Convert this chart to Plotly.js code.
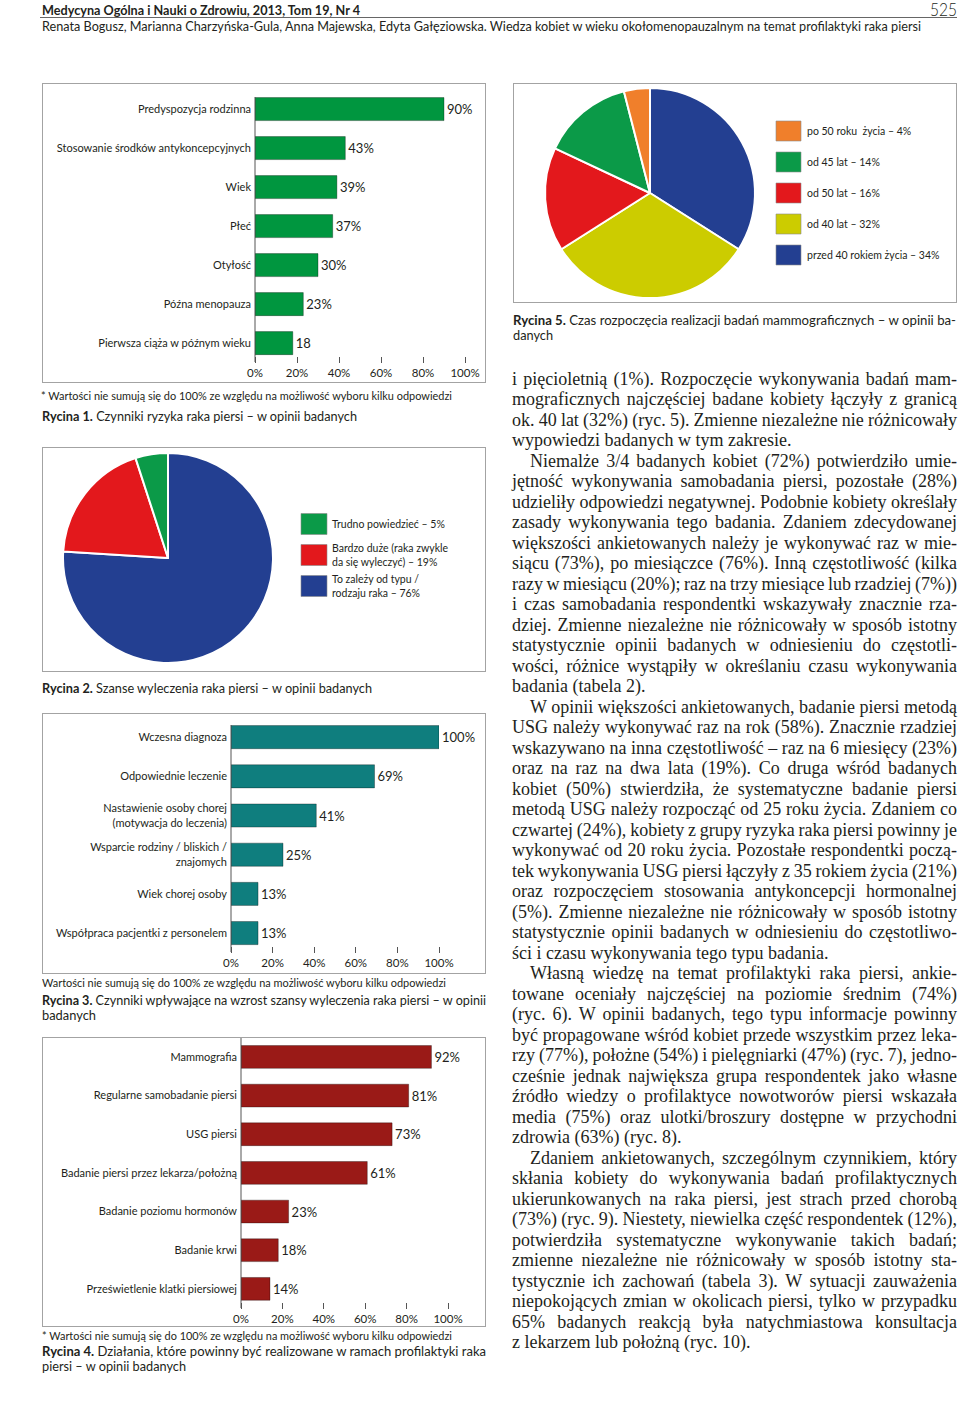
<!DOCTYPE html>
<html><head><meta charset="utf-8">
<script src="https://cdn.plot.ly/plotly-3.0.1.min.js"></script>
<style>
body{margin:0;background:#fff;width:960px;height:1426px;position:relative;overflow:hidden;font-family:Lato,"Open Sans",sans-serif;color:#231f20}
.box{position:absolute;border:1px solid #a3a3a3;box-sizing:border-box}
.plot{position:absolute}
.fit{position:absolute;white-space:nowrap;transform-origin:0 50%}
.tl{position:absolute;white-space:nowrap;font-family:"Liberation Serif","DejaVu Serif",serif;font-size:18px;line-height:20px;color:#231f20;transform-origin:0 50%}
b{font-weight:700}
</style></head><body>
<div id="page"></div>
<script>
// ---------------- DATA ----------------
const axisTickVals = [0, 20, 40, 60, 80, 100];
const axisTickText = ["0%", "20%", "40%", "60%", "80%", "100%"];

const fig1Categories = ["Predyspozycja rodzinna", "Stosowanie środków antykoncepcyjnych", "Wiek", "Płeć", "Otyłość", "Późna menopauza", "Pierwsza ciąża w późnym wieku"];
const fig1Values = [90, 43, 39, 37, 30, 23, 18];
const fig1Labels = ["90%", "43%", "39%", "37%", "30%", "23%", "18"];

const fig2Categories = ["To zależy od typu / rodzaju raka", "Bardzo duże (raka zwykle da się wyleczyć)", "Trudno powiedzieć"];
const fig2Values = [76, 19, 5];
const fig2LegendText = ["Trudno powiedzieć – 5%", "Bardzo duże (raka zwykle<br>da się wyleczyć) – 19%", "To zależy od typu /<br>rodzaju raka – 76%"];

const fig3Categories = ["Wczesna diagnoza", "Odpowiednie leczenie", "Nastawienie osoby chorej<br>(motywacja do leczenia)", "Wsparcie rodziny / bliskich /<br>znajomych", "Wiek chorej osoby", "Współpraca pacjentki z personelem"];
const fig3Values = [100, 69, 41, 25, 13, 13];
const fig3Labels = ["100%", "69%", "41%", "25%", "13%", "13%"];

const fig4Categories = ["Mammografia", "Regularne samobadanie piersi", "USG piersi", "Badanie piersi przez lekarza/położną", "Badanie poziomu hormonów", "Badanie krwi", "Prześwietlenie klatki piersiowej"];
const fig4Values = [92, 81, 73, 61, 23, 18, 14];
const fig4Labels = ["92%", "81%", "73%", "61%", "23%", "18%", "14%"];

const fig5Categories = ["przed 40 rokiem życia", "od 40 lat", "od 50 lat", "od 45 lat", "po 50 roku  życia"];
const fig5Values = [34, 32, 16, 14, 4];
const fig5LegendText = ["po 50 roku  życia – 4%", "od 45 lat – 14%", "od 50 lat – 16%", "od 40 lat – 32%", "przed 40 rokiem życia – 34%"];

const headerTitle = "Medycyna Ogólna i Nauki o Zdrowiu, 2013, Tom 19, Nr 4";
const headerPage = "525";
const headerAuthors = "Renata Bogusz, Marianna Charzyńska-Gula, Anna Majewska, Edyta Gałęziowska. Wiedza kobiet w wieku okołomenopauzalnym na temat profilaktyki raka piersi";
const footnoteStar = "* Wartości nie sumują się do 100% ze względu na możliwość wyboru kilku odpowiedzi";
const footnotePlain = "Wartości nie sumują się do 100% ze względu na możliwość wyboru kilku odpowiedzi";

const bodyParagraphs = [
 ["i pięcioletnią (1%). Rozpoczęcie wykonywania badań mam-",
  "mograficznych najczęściej badane kobiety łączyły z granicą",
  "ok. 40 lat (32%) (ryc. 5). Zmienne niezależne nie różnicowały",
  "wypowiedzi badanych w tym zakresie."],
 ["Niemalże 3/4 badanych kobiet (72%) potwierdziło umie-",
  "jętność wykonywania samobadania piersi, pozostałe (28%)",
  "udzieliły odpowiedzi negatywnej. Podobnie kobiety określały",
  "zasady wykonywania tego badania. Zdaniem zdecydowanej",
  "większości ankietowanych należy je wykonywać raz w mie-",
  "siącu (73%), po miesiączce (76%). Inną częstotliwość (kilka",
  "razy w miesiącu (20%); raz na trzy miesiące lub rzadziej (7%))",
  "i czas samobadania respondentki wskazywały znacznie rza-",
  "dziej. Zmienne niezależne nie różnicowały w sposób istotny",
  "statystycznie opinii badanych w odniesieniu do częstotli-",
  "wości, różnice wystąpiły w określaniu czasu wykonywania",
  "badania (tabela 2)."],
 ["W opinii większości ankietowanych, badanie piersi metodą",
  "USG należy wykonywać raz na rok (58%). Znacznie rzadziej",
  "wskazywano na inna częstotliwość – raz na 6 miesięcy (23%)",
  "oraz na raz na dwa lata (19%). Co druga wśród badanych",
  "kobiet (50%) stwierdziła, że systematyczne badanie piersi",
  "metodą USG należy rozpocząć od 25 roku życia. Zdaniem co",
  "czwartej (24%), kobiety z grupy ryzyka raka piersi powinny je",
  "wykonywać od 20 roku życia. Pozostałe respondentki pocżą-".replace("pocżą","począ"),
  "tek wykonywania USG piersi łączyły z 35 rokiem życia (21%)",
  "oraz rozpoczęciem stosowania antykoncepcji hormonalnej",
  "(5%). Zmienne niezależne nie różnicowały w sposób istotny",
  "statystycznie opinii badanych w odniesieniu do częstotliwo-",
  "ści i czasu wykonywania tego typu badania."],
 ["Własną wiedzę na temat profilaktyki raka piersi, ankie-",
  "towane oceniały najczęściej na poziomie średnim (74%)",
  "(ryc. 6). W opinii badanych, tego typu informacje powinny",
  "być propagowane wśród kobiet przede wszystkim przez leka-",
  "rzy (77%), położne (54%) i pielęgniarki (47%) (ryc. 7), jedno-",
  "cześnie jednak największa grupa respondentek jako własne",
  "źródło wiedzy o profilaktyce nowotworów piersi wskazała",
  "media (75%) oraz ulotki/broszury dostępne w przychodni",
  "zdrowia (63%) (ryc. 8)."],
 ["Zdaniem ankietowanych, szczególnym czynnikiem, który",
  "skłania kobiety do wykonywania badań profilaktycznych",
  "ukierunkowanych na raka piersi, jest strach przed chorobą",
  "(73%) (ryc. 9). Niestety, niewielka część respondentek (12%),",
  "potwierdziła systematyczne wykonywanie takich badań;",
  "zmienne niezależne nie różnicowały w sposób istotny sta-",
  "tystycznie ich zachowań (tabela 3). W sytuacji zauważenia",
  "niepokojących zmian w okolicach piersi, tylko w przypadku",
  "65% badanych reakcją była natychmiastowa konsultacja",
  "z lekarzem lub położną (ryc. 10)."]
];

// ---------------- STYLE ----------------
const FONT = 'Lato, "Open Sans", sans-serif';
const INK = '#231f20';
const page = document.getElementById('page');

function el(tag, cls, style, html){
  const e = document.createElement(tag);
  if (cls) e.className = cls;
  Object.assign(e.style, style || {});
  if (html !== undefined) e.innerHTML = html;
  page.appendChild(e);
  return e;
}
// fixed single text line, scaled horizontally to a target width
function fitLine(html, x, cy, target, size, opts){
  opts = opts || {};
  const lh = Math.round(size * 1.2);
  const e = el('div', 'fit', {left: x + 'px', top: (cy - lh / 2) + 'px', fontSize: size + 'px', lineHeight: lh + 'px',
    fontFamily: opts.family || FONT, fontWeight: opts.weight || 400, color: INK}, html);
  if (target) {
    const w = e.getBoundingClientRect().width;
    e.style.transform = 'scaleX(' + (target / w) + ')';
  }
  if (opts.right) {
    const w = target || e.getBoundingClientRect().width;
    e.style.left = (opts.right - w) + 'px';
  }
  return e;
}

// ---------------- HEADER ----------------
fitLine(headerTitle, 42, 9, 318, 14, {weight: 700});
fitLine(headerPage, 0, 9, 27, 18, {right: 957, weight: 300});
el('div', '', {position: 'absolute', left: '40px', top: '17px', width: '917px', height: '1px', background: '#666'});
fitLine(headerAuthors, 42, 26, 879, 12.5);

// ---------------- BAR CHARTS ----------------
function barChart(left, top, w, h, m, cats, vals, labels, color, yRange){
  el('div', 'box', {left: left + 'px', top: top + 'px', width: w + 'px', height: h + 'px'});
  const d = el('div', 'plot', {left: left + 'px', top: top + 'px', width: w + 'px', height: h + 'px'});
  const plotH = h - m.t - m.b;
  Plotly.newPlot(d, [{
    type: 'bar', orientation: 'h', y: cats, x: vals, text: labels, texttemplate: '%{text}',
    textposition: 'outside', cliponaxis: false, constraintext: 'none',
    textfont: {family: FONT, size: 13, color: INK},
    marker: {color: color, line: {color: 'rgba(0,0,0,0.45)', width: 0.7}},
    width: 0.59, hoverinfo: 'none'
  }], {
    width: w, height: h, margin: m,
    paper_bgcolor: 'rgba(0,0,0,0)', plot_bgcolor: 'rgba(0,0,0,0)',
    font: {family: FONT, size: 11, color: INK},
    showlegend: false,
    xaxis: {range: [0, 100], tickvals: axisTickVals, ticktext: axisTickText, ticks: 'outside', ticklen: 6,
      tickcolor: '#555', tickwidth: 1, showgrid: false, zeroline: false, showline: false, fixedrange: true,
      tickfont: {family: FONT, size: 11.5, color: INK}},
    yaxis: {type: 'category', range: yRange, showline: false, ticks: '', showgrid: false, zeroline: false,
      tickfont: {family: FONT, size: 11, color: INK}, automargin: false, ticklabelstandoff: 3},
    shapes: [{type: 'line', xref: 'paper', yref: 'paper', x0: 0, x1: 0, y0: -6 / plotH, y1: 1,
      line: {color: '#555', width: 1}}]
  }, {staticPlot: true});
}

barChart(42, 83, 444, 300, {l: 213, r: 21, t: 14, b: 27}, fig1Categories, fig1Values, fig1Labels, '#00963f', [6.33, -0.31]);
barChart(42, 713, 444, 261, {l: 189, r: 47, t: 12, b: 28}, fig3Categories, fig3Values, fig3Labels, '#0f7e7e', [5.33, -0.31]);
barChart(42, 1037, 444, 290, {l: 199, r: 38, t: 1, b: 25}, fig4Categories, fig4Values, fig4Labels, '#9a1a17', [6.34, -0.49]);

// ---------------- PIE CHARTS ----------------
function pieChart(left, top, w, h, cx, cy, r, cats, vals, colors, legendText, legendColors, legend){
  el('div', 'box', {left: left + 'px', top: top + 'px', width: w + 'px', height: h + 'px'});
  const d = el('div', 'plot', {left: left + 'px', top: top + 'px', width: w + 'px', height: h + 'px'});
  const px = x => (x - left) / w, py = y => 1 - (y - top) / h;
  const shapes = [], annotations = [];
  legendText.forEach((t, i) => {
    const c = legend.y0 + i * legend.step;
    shapes.push({type: 'rect', xref: 'paper', yref: 'paper', x0: px(legend.x0), x1: px(legend.x1),
      y0: py(c + legend.h / 2), y1: py(c - legend.h / 2), fillcolor: legendColors[i], line: {color: '#8a8a8a', width: 0.6}});
    annotations.push({xref: 'paper', yref: 'paper', x: px(legend.tx), y: py(c), xanchor: 'left', yanchor: 'middle',
      text: t, showarrow: false, align: 'left', font: {family: FONT, size: 10.5, color: INK}});
  });
  Plotly.newPlot(d, [{
    type: 'pie', values: vals, labels: cats, sort: false, direction: 'clockwise', rotation: 0,
    textinfo: 'none', hoverinfo: 'none',
    marker: {colors: colors, line: {color: '#ffffff', width: 2}},
    domain: {x: [px(cx - r), px(cx + r)], y: [py(cy + r), py(cy - r)]}
  }], {
    width: w, height: h, margin: {l: 0, r: 0, t: 0, b: 0}, showlegend: false,
    paper_bgcolor: 'rgba(0,0,0,0)', shapes: shapes, annotations: annotations
  }, {staticPlot: true});
}

const C_BLUE = '#233f91', C_YEL = '#cccc00', C_RED = '#e3181c', C_GRN = '#0b9a48', C_ORG = '#f07f2b';
pieChart(513, 83, 444, 220, 650, 193, 105, fig5Categories, fig5Values,
  [C_BLUE, C_YEL, C_RED, C_GRN, C_ORG], fig5LegendText, [C_ORG, C_GRN, C_RED, C_YEL, C_BLUE],
  {x0: 776, x1: 801, tx: 805, y0: 131, step: 31, h: 20});
pieChart(42, 447, 444, 225, 168, 558, 105, fig2Categories, fig2Values,
  [C_BLUE, C_RED, C_GRN], fig2LegendText, [C_GRN, C_RED, C_BLUE],
  {x0: 301, x1: 327, tx: 330, y0: 524, step: 31, h: 21});

// ---------------- FOOTNOTES & CAPTIONS ----------------
fitLine(footnoteStar, 41, 396, 411, 10.5);
fitLine('<b>Rycina 1.</b> Czynniki ryzyka raka piersi – w opinii badanych', 42, 416, 315, 12.5);
fitLine('<b>Rycina 5.</b> Czas rozpoczęcia realizacji badań mammograficznych – w opinii ba-', 513, 320, 443, 12.5);
fitLine('danych', 513, 335, 40, 12.5);
fitLine('<b>Rycina 2.</b> Szanse wyleczenia raka piersi – w opinii badanych', 42, 688, 330, 12.5);
fitLine(footnotePlain, 42, 983, 404, 10.5);
fitLine('<b>Rycina 3.</b> Czynniki wpływające na wzrost szansy wyleczenia raka piersi – w opinii', 42, 1000, 444, 12.5);
fitLine('badanych', 42, 1015, 54, 12.5);
fitLine(footnoteStar, 42, 1336, 410, 10.5);
fitLine('<b>Rycina 4.</b> Działania, które powinny być realizowane w ramach profilaktyki raka', 42, 1351, 444, 12.5);
fitLine('piersi – w opinii badanych', 42, 1366, 144, 12.5);

// ---------------- BODY TEXT (justified lines) ----------------
(function(){
  const X = 512, W = 445, INDENT = 18, LH = 20.49, Y0 = 380;
  let n = 0;
  bodyParagraphs.forEach((para, pi) => {
    para.forEach((line, li) => {
      const isFirst = li === 0 && pi > 0;
      const isLast = li === para.length - 1;
      const x = X + (isFirst ? INDENT : 0);
      const target = W - (isFirst ? INDENT : 0);
      const e = el('div', 'tl', {left: x + 'px', top: (Y0 + n * LH - 11) + 'px'}, line);
      const w = e.getBoundingClientRect().width;
      const spaces = (line.match(/ /g) || []).length;
      if (!isLast) {
        let ws = spaces ? (target - w) / spaces : 0;
        if (ws < -1.5) { ws = -1.5; }
        e.style.wordSpacing = ws + 'px';
        const w2 = e.getBoundingClientRect().width;
        if (Math.abs(w2 - target) > 0.5) e.style.transform = 'scaleX(' + (target / w2) + ')';
      } else if (w > target) {
        e.style.transform = 'scaleX(' + (target / w) + ')';
      }
      n++;
    });
  });
})();
</script>
</body></html>
